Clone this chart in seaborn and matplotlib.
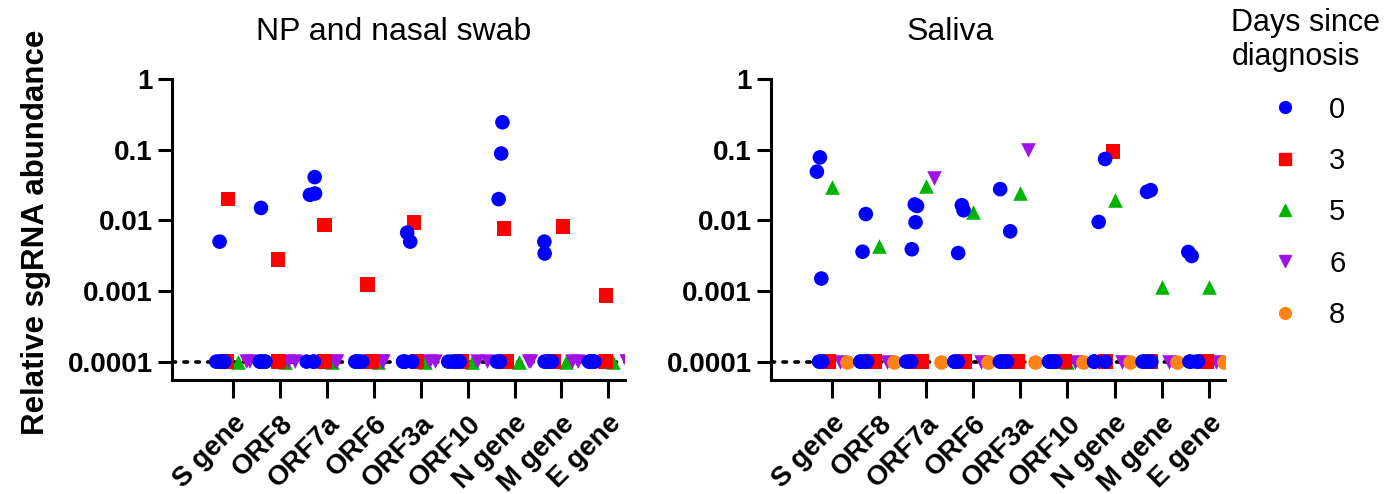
import numpy as np
import pandas as pd
import matplotlib
matplotlib.use("Agg")
import matplotlib.pyplot as plt
from matplotlib.lines import Line2D
import seaborn as sns


GENES = ["S gene", "ORF8", "ORF7a", "ORF6", "ORF3a", "ORF10", "N gene", "M gene", "E gene"]
LOD = 1e-4  # undetected samples are plotted at the detection limit

# detected values per gene, same order as GENES
np_day0 = [[0.005], [0.015], [0.041, 0.023, 0.024], [], [0.0067, 0.005], [],
           [0.245, 0.0885, 0.020], [0.005, 0.0034], []]
np_day3 = [[0.020], [0.0028], [0.0086], [0.00124], [0.0094], [], [0.0077], [0.0082], [0.00086]]
np_day5 = [[], [], [], [], [], [], [], [], []]
np_day6 = [[], [], [], [], [], [], [], [], []]
np_samples = {0: 6, 3: 2, 5: 1, 6: 2}

sal_day0 = [[0.078, 0.049, 0.0015], [0.0123, 0.0036], [0.0168, 0.016, 0.0094, 0.0039],
            [0.0139, 0.0164, 0.00345], [0.0277, 0.0070], [], [0.074, 0.0095],
            [0.0254, 0.0268], [0.00313, 0.00357]]
sal_day3 = [[], [], [], [], [], [], [0.094], [], []]
sal_day5 = [[0.030], [0.0043], [0.031], [0.013], [0.0245], [], [0.0195], [0.00114], [0.00114]]
sal_day6 = [[], [], [0.040], [], [0.10], [], [], [], []]
sal_day8 = [[], [], [], [], [], [], [], [], []]
sal_samples = {0: 6, 3: 2, 5: 1, 6: 1, 8: 1}

COLORS = {0: "#0000FF", 3: "#FF0000", 5: "#00B400", 6: "#A012E6", 8: "#FF8214"}
MARKERS = {0: "o", 3: "s", 5: "^", 6: "v", 8: "o"}
ZORDER = {0: 5, 3: 4, 5: 2, 6: 3, 8: 3}

FONT = ["Liberation Sans", "DejaVu Sans"]


def build_frame(per_day, samples):
    rows = []
    for day, detected in per_day.items():
        for gene, vals in zip(GENES, detected):
            vals = list(vals) + [LOD] * (samples[day] - len(vals))
            for v in vals:
                rows.append({"gene": gene, "day": day, "value": v})
    return pd.DataFrame(rows)


def draw_panel(ax, df, days, title, title_x, jitter):
    ax.axhline(LOD, color="black", linestyle=(0, (1, 2.3)), linewidth=2.6,
               dash_capstyle="round", zorder=0)
    for d in days:
        sub = df[df["day"] == d]
        sns.stripplot(data=sub, x="gene", y="value", hue="day", order=GENES,
                      hue_order=days, palette=COLORS, dodge=True, jitter=jitter,
                      marker=MARKERS[d], size=10.5, linewidth=0, legend=False,
                      ax=ax, zorder=ZORDER[d])
    ax.set_yscale("log")
    ax.set_ylim(10 ** -4.26, 1)
    ax.set_xlim(-1.3, 8.35)
    ax.set_yticks([1e-4, 1e-3, 1e-2, 1e-1, 1],
                  ["0.0001", "0.001", "0.01", "0.1", "1"])
    ax.minorticks_off()
    ax.set_xticks(range(len(GENES)), GENES, rotation=45, ha="right",
                  rotation_mode="anchor")
    for lab in ax.get_yticklabels():
        lab.set_fontweight("bold")
        lab.set_fontsize(20)
    for lab in ax.get_xticklabels():
        lab.set_fontweight("bold")
        lab.set_fontsize(20)
    ax.tick_params(axis="y", length=10, width=2.2, pad=4, colors="black")
    ax.tick_params(axis="x", length=13, width=2.2, pad=9, colors="black")
    for s in ["left", "bottom"]:
        ax.spines[s].set_linewidth(2.2)
        ax.spines[s].set_color("black")
    sns.despine(ax=ax)
    ax.set_xlabel("")
    ax.set_ylabel("")
    ax.set_title(title, fontsize=23, pad=28, x=title_x, color="black")


def main():
    np.random.seed(3)
    sns.set_style("ticks")
    plt.rcParams["font.family"] = FONT
    plt.rcParams["text.color"] = "black"

    np_df = build_frame({0: np_day0, 3: np_day3, 5: np_day5, 6: np_day6}, np_samples)
    sal_df = build_frame({0: sal_day0, 3: sal_day3, 5: sal_day5, 6: sal_day6, 8: sal_day8},
                         sal_samples)

    fig = plt.figure(figsize=(13.93, 4.94), dpi=100)
    ax1 = fig.add_axes([0.1235, 0.2308, 0.325, 0.609])
    ax2 = fig.add_axes([0.5535, 0.2308, 0.326, 0.609])

    draw_panel(ax1, np_df, [0, 3, 5, 6], "NP and nasal swab", 0.49, 0.55)
    draw_panel(ax2, sal_df, [0, 3, 5, 6, 8], "Saliva", 0.394, 0.65)

    fig.text(0.026, 0.53, "Relative sgRNA abundance", rotation=90, ha="center",
             va="center", fontsize=22.5, fontweight="bold")

    handles = [Line2D([], [], marker=MARKERS[d], color=COLORS[d], linestyle="",
                      markersize=8.5) for d in [0, 3, 5, 6, 8]]
    leg = fig.legend(handles, ["0", "3", "5", "6", "8"], title="Days since\ndiagnosis",
                     loc="upper left", bbox_to_anchor=(0.8715, 1.02), frameon=False,
                     fontsize=21, title_fontsize=22, labelspacing=0.8,
                     handlelength=3.7, handletextpad=-0.35, borderpad=0.1)
    leg._legend_box.align = "left"

    fig.savefig("out.png", dpi=100)


if __name__ == "__main__":
    main()
